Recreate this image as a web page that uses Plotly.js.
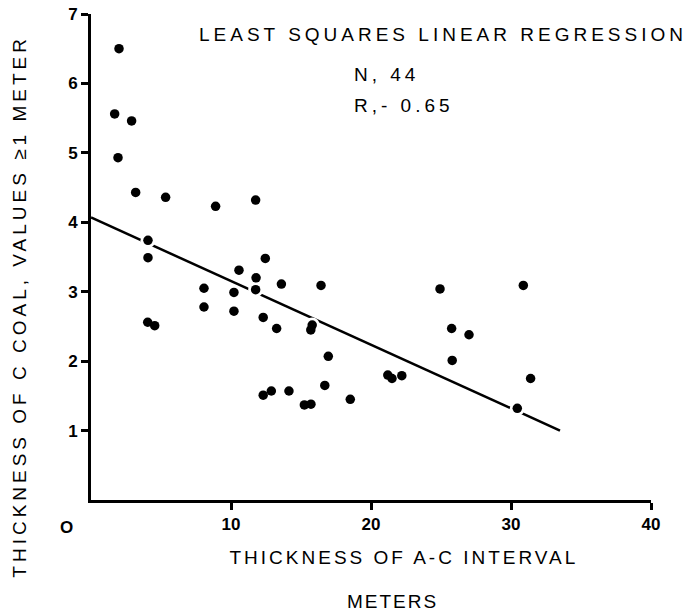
<!DOCTYPE html>
<html><head><meta charset="utf-8">
<script src="https://cdn.plot.ly/plotly-3.0.1.min.js"></script>
<style>
html,body{margin:0;padding:0;background:#fff;}
#chart{width:687px;height:616px;}
.annotation-text{letter-spacing:4px;}
g.annotation[data-index="3"] .annotation-text{letter-spacing:3px;}
g.annotation[data-index="4"] .annotation-text{letter-spacing:2px;}
g.annotation[data-index="6"] .annotation-text{letter-spacing:0;}
</style></head><body><div id="chart"></div>
<script>
// Thickness of A-C interval (m)
const intervalX = [2.0, 1.69, 2.9, 1.93, 3.19, 5.33, 11.76, 8.9, 4.07, 4.07,
  12.45, 10.57, 11.79, 13.6, 8.07, 10.21, 11.76, 16.43, 8.07, 10.21,
  12.3, 13.26, 4.05, 4.55, 15.8, 15.7, 16.95, 21.2, 21.5, 22.2,
  16.7, 12.3, 12.88, 14.14, 15.24, 15.71, 18.52, 24.93, 30.88, 25.76,
  27.0, 25.8, 31.4, 30.45];
// Thickness of C coal (m)
const coalY = [6.50, 5.56, 5.46, 4.93, 4.43, 4.36, 4.32, 4.23, 3.74, 3.49,
  3.48, 3.31, 3.20, 3.11, 3.05, 2.99, 3.03, 3.09, 2.78, 2.72,
  2.63, 2.47, 2.56, 2.51, 2.52, 2.45, 2.07, 1.80, 1.75, 1.79,
  1.65, 1.51, 1.57, 1.57, 1.37, 1.38, 1.45, 3.04, 3.09, 2.47,
  2.38, 2.01, 1.75, 1.32];
// Regression line end points
const fitX = [0, 33.5];
const fitY = [4.07, 1.0];
const xTicks = [10, 20, 30, 40];
const xTickText = ['10', '20', '30', '40'];
const yTicks = [1, 2, 3, 4, 5, 6, 7];

const L = 91, W = 560, T = 14, H = 486.5;
const PX = p => (p - L) / W;
const PY = p => (T + H - p) / H;
const FAM = 'Liberation Sans, Arial, sans-serif';
const tf = {family: FAM, size: 19, color: '#000'};
const tickf = {family: FAM, size: 17, color: '#000', weight: 'bold'};

const data = [
  {x: fitX, y: fitY, mode: 'lines', line: {color: '#000', width: 2.5}, hoverinfo: 'skip'},
  {x: intervalX, y: coalY, mode: 'markers', marker: {color: '#fff', size: 15}, hoverinfo: 'skip'},
  {x: intervalX, y: coalY, mode: 'markers', marker: {color: '#000', size: 9.5}}
];

const layout = {
  width: 687, height: 616, showlegend: false,
  paper_bgcolor: '#fff', plot_bgcolor: '#fff',
  margin: {l: L, r: 687 - L - W, t: T, b: 616 - T - H, pad: 0},
  xaxis: {range: [0, 40], tickvals: xTicks, ticktext: xTickText, showgrid: false, zeroline: false,
    showline: true, linecolor: '#000', linewidth: 3, ticks: 'outside', ticklen: 7, tickwidth: 3, tickcolor: '#000',
    tickfont: tickf},
  yaxis: {range: [0, 7], tickvals: yTicks, showgrid: false, zeroline: false,
    showline: true, linecolor: '#000', linewidth: 3, ticks: 'outside', ticklen: 7, tickwidth: 3, tickcolor: '#000',
    tickfont: tickf},
  annotations: [
    {text: 'LEAST SQUARES LINEAR REGRESSION', xref: 'paper', yref: 'paper', x: PX(443), y: PY(35), showarrow: false, font: tf, xanchor: 'center', yanchor: 'middle'},
    {text: 'N, 44', xref: 'paper', yref: 'paper', x: PX(352), y: PY(75), showarrow: false, font: tf, xanchor: 'left', yanchor: 'middle'},
    {text: 'R,- 0.65', xref: 'paper', yref: 'paper', x: PX(352), y: PY(106), showarrow: false, font: tf, xanchor: 'left', yanchor: 'middle'},
    {text: 'THICKNESS OF A-C INTERVAL', xref: 'paper', yref: 'paper', x: PX(404), y: PY(558), showarrow: false, font: tf, xanchor: 'center', yanchor: 'middle'},
    {text: 'METERS', xref: 'paper', yref: 'paper', x: PX(392), y: PY(602), showarrow: false, font: tf, xanchor: 'center', yanchor: 'middle'},
    {text: 'THICKNESS OF C COAL, VALUES ≥1 METER', xref: 'paper', yref: 'paper', x: PX(20), y: PY(307), textangle: -90, showarrow: false, font: tf, xanchor: 'center', yanchor: 'middle'},
    {text: '<b>O</b>', xref: 'paper', yref: 'paper', x: PX(66), y: PY(528), showarrow: false, font: {family: FAM, size: 17, color: '#000'}, xanchor: 'center', yanchor: 'middle'}
  ]
};
Plotly.newPlot('chart', data, layout, {displayModeBar: false, staticPlot: true});
</script></body></html>
